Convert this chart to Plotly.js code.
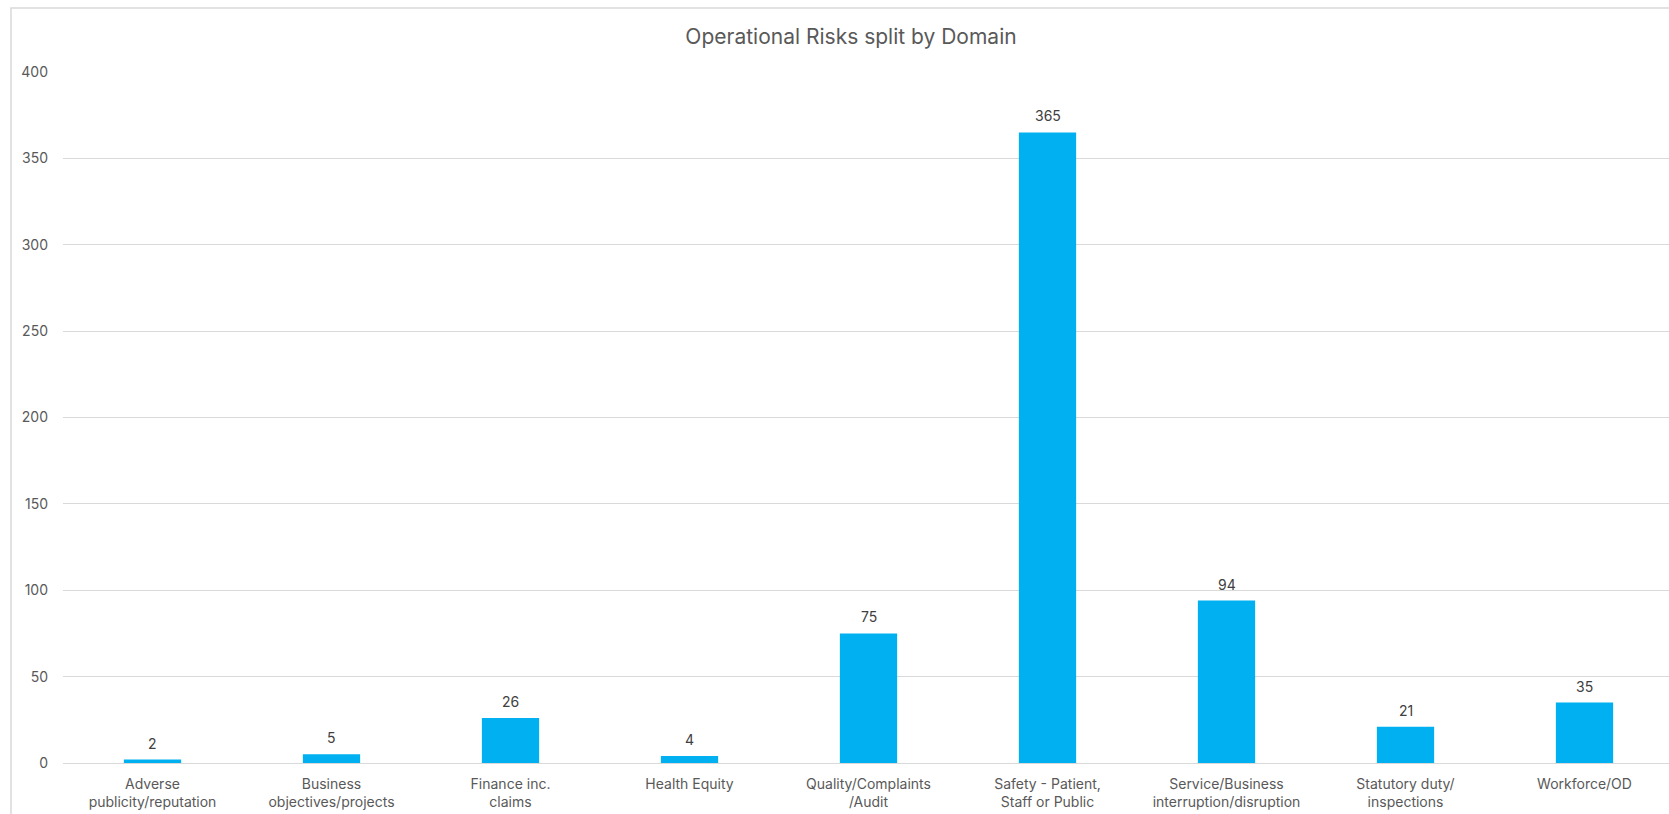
<!DOCTYPE html>
<html>
<head>
<meta charset="utf-8">
<script src="https://cdn.plot.ly/plotly-3.0.1.min.js"></script>
<style>
  html, body { margin: 0; padding: 0; overflow: hidden; background: #ffffff; }
  #chart { width: 1680px; height: 814px; }
</style>
</head>
<body>
<div id="chart"></div>
<script>
const categories = [
  "Adverse<br>publicity/reputation",
  "Business<br>objectives/projects",
  "Finance inc.<br>claims",
  "Health Equity",
  "Quality/Complaints<br>/Audit",
  "Safety - Patient,<br>Staff or Public",
  "Service/Business<br>interruption/disruption",
  "Statutory duty/<br>inspections",
  "Workforce/OD"
];
const riskCounts = [2, 5, 26, 4, 75, 365, 94, 21, 35];
const yTickValues = [0, 50, 100, 150, 200, 250, 300, 350, 400];
const chartTitle = "Operational Risks split by Domain";

const fontFamily = "Inter, 'Open Sans', 'Liberation Sans', sans-serif";
const textColor = "#595959";
const gridColor = "#d9d9d9";

const trace = {
  type: "bar",
  x: categories,
  y: riskCounts,
  marker: { color: "#00B0F0", line: { width: 0 } },
  hoverinfo: "x+y"
};

const dataLabels = categories.map((c, i) => ({
  x: c,
  y: riskCounts[i],
  xref: "x",
  yref: "y",
  text: String(riskCounts[i]),
  showarrow: false,
  yanchor: "bottom",
  yshift: 6,
  font: { family: fontFamily, size: 14, color: "#404040" }
}));

const layout = {
  width: 1680,
  height: 814,
  margin: { l: 63, r: 6, t: 72, b: 51 },
  paper_bgcolor: "#ffffff",
  plot_bgcolor: "#ffffff",
  bargap: 0.68,
  showlegend: false,
  title: {
    text: chartTitle,
    font: { family: fontFamily, size: 21, color: textColor },
    xref: "container",
    x: 851 / 1680,
    xanchor: "center",
    yref: "container",
    y: 1 - 37 / 814,
    yanchor: "middle"
  },
  xaxis: {
    type: "category",
    tickfont: { family: fontFamily, size: 14, color: textColor },
    showgrid: false,
    showline: false,
    zeroline: false,
    ticks: "",
    ticklabelstandoff: 11,
    tickangle: 0,
    automargin: false
  },
  yaxis: {
    range: [0, 400],
    tickvals: yTickValues,
    tickfont: { family: fontFamily, size: 14, color: textColor },
    showgrid: true,
    gridcolor: gridColor,
    gridwidth: 1,
    zeroline: true,
    zerolinecolor: gridColor,
    zerolinewidth: 1,
    showline: false,
    ticks: "",
    ticklabelstandoff: 14,
    automargin: false
  },
  annotations: dataLabels,
  shapes: [
    {
      type: "rect",
      xref: "paper", yref: "paper",
      x0: (11 - 63) / 1611, x1: 1.05,
      y0: -0.2, y1: (763 - 8) / 691,
      line: { color: gridColor, width: 1.5 },
      fillcolor: "rgba(0,0,0,0)",
      layer: "below"
    }
  ]
};

Plotly.newPlot("chart", [trace], layout, { displayModeBar: false, responsive: false, staticPlot: true });
</script>
</body>
</html>
